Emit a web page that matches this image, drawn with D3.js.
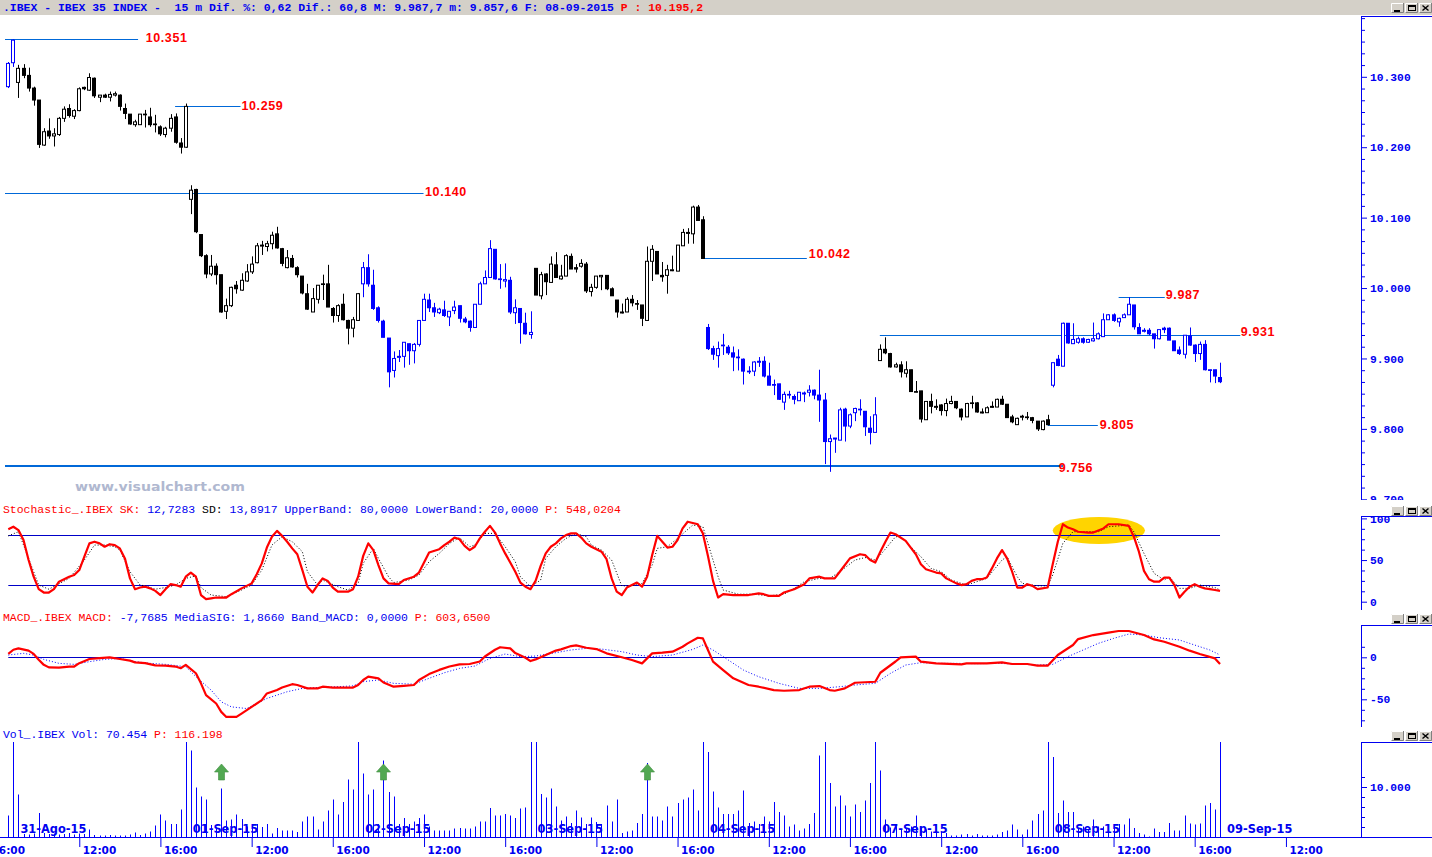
<!DOCTYPE html>
<html><head><meta charset="utf-8">
<script src="https://cdn.jsdelivr.net/npm/d3@7"></script>
<style>
html,body{margin:0;padding:0;background:#fff;overflow:hidden}
svg{display:block}
</style></head><body>
<svg id="chart" width="1432" height="857"></svg>
<script>
// ---------------- DATA ----------------
const openP = [10286,10320,10292,10312,10302,10284,10267,10203,10223,10216,
10218,10241,10255,10244,10252,10285,10281,10298,10271,10274,
10271,10274,10274,10255,10247,10232,10232,10247,10243,10233,
10229,10218,10227,10243,10206,10200,10126,10140,10076,10046,
10020,10031,10019,9967,9975,10004,9997,10010,10023,10036,
10060,10059,10063,10077,10056,10029,10042,10029,10017,9992,
9966,9984,10006,10006,9971,9961,9977,9954,9943,9954,
10006,10029,10004,9972,9953,9929,9883,9902,9903,9921,
9911,9920,9954,9983,9972,9965,9969,9959,9968,9975,
9956,9953,9944,9977,10006,10015,10055,10013,10010,10011,
9965,9971,9950,9934,10028,9989,10020,10008,10033,10013,
10017,10045,10029,10031,10034,9995,10001,10016,10018,9999,
9983,9965,9966,9984,9978,9976,9954,10038,10052,10018,
10018,10025,10024,10060,10078,10077,10115,10097,9944,9914,
9904,9919,9916,9908,9902,9899,9882,9882,9895,9896,
9875,9863,9864,9838,9849,9846,9840,9850,9852,9855,
9848,9841,9782,9786,9784,9828,9804,9823,9828,9825,
9801,9795,9897,9913,9907,9888,9891,9879,9884,9853,
9854,9813,9839,9831,9834,9826,9836,9839,9828,9817,
9837,9837,9823,9823,9831,9831,9842,9835,9817,9806,
9817,9817,9816,9811,9799,9813,9862,9899,9889,9950,
9921,9923,9928,9923,9925,9928,9931,9955,9962,9952,
9958,9962,9976,9944,9939,9940,9935,9928,9943,9943,
9925,9912,9906,9932,9919,9907,9920,9884,9884,9873];
const highP = [10321,10353,10317,10318,10313,10286,10267,10227,10241,10227,
10243,10258,10261,10254,10285,10286,10305,10299,10274,10276,
10279,10279,10275,10262,10247,10239,10247,10253,10256,10246,
10231,10229,10247,10248,10213,10262,10146,10141,10076,10048,
10047,10035,10019,9985,10002,10010,10021,10034,10045,10064,
10067,10067,10080,10087,10057,10054,10047,10031,10017,10006,
10000,10004,10019,10033,9973,9977,9992,9955,9959,9993,
10037,10048,10026,9974,9955,9929,9910,9912,9923,9921,
9922,9954,9992,9992,9979,9972,9982,9967,9982,9975,
9959,9954,9977,10009,10025,10068,10055,10034,10035,10016,
9984,9971,9965,9967,10028,10023,10021,10045,10051,10033,
10048,10049,10034,10041,10037,10006,10017,10018,10018,10001,
9983,9978,9987,9990,9983,9976,10059,10061,10052,10037,
10033,10046,10061,10084,10085,10117,10118,10102,9949,9918,
9924,9935,9919,9917,9913,9900,9889,9896,9902,9903,
9894,9870,9864,9853,9854,9849,9852,9853,9862,9856,
9884,9851,9792,9787,9830,9830,9822,9830,9842,9825,
9818,9845,9920,9930,9908,9894,9896,9896,9884,9868,
9854,9839,9850,9842,9835,9843,9847,9839,9829,9837,
9847,9838,9829,9832,9839,9843,9847,9835,9820,9816,
9820,9824,9817,9811,9812,9820,9894,9905,9951,9950,
9950,9931,9930,9928,9951,9937,9964,9963,9964,9958,
9964,9987,9976,9950,9943,9943,9935,9941,9945,9944,
9925,9917,9933,9944,9920,9924,9926,9884,9884,9894];
const lowP = [10284,10314,10270,10298,10279,10259,10199,10202,10212,10201,
10216,10236,10242,10240,10251,10281,10280,10270,10264,10270,
10265,10272,10252,10240,10232,10229,10232,10228,10229,10221,
10216,10214,10222,10205,10191,10199,10105,10078,10044,10014,
10017,10005,9965,9956,9973,9992,9996,10009,10020,10035,
10047,10052,10055,10056,10031,10028,10029,10015,9991,9969,
9966,9978,9983,9973,9951,9952,9954,9920,9930,9954,
9987,10002,9969,9951,9930,9859,9873,9895,9887,9891,
9893,9917,9954,9966,9959,9963,9959,9946,9963,9951,
9950,9938,9944,9977,10006,10015,10012,9999,10001,9963,
9949,9921,9934,9928,9990,9984,9990,10008,10015,10012,
10017,10027,10022,10029,9993,9988,9999,9997,9997,9989,
9958,9964,9966,9974,9969,9946,9954,10010,10020,10009,
9992,10024,10024,10060,10063,10063,10096,10042,9912,9898,
9887,9905,9905,9882,9883,9863,9878,9875,9888,9873,
9862,9848,9841,9827,9843,9835,9840,9838,9846,9842,
9810,9750,9739,9766,9784,9782,9801,9811,9819,9790,
9778,9795,9897,9906,9887,9887,9873,9873,9853,9852,
9809,9813,9822,9827,9819,9818,9835,9828,9812,9817,
9829,9823,9822,9823,9830,9831,9834,9816,9808,9806,
9812,9813,9808,9797,9798,9805,9859,9889,9889,9921,
9921,9921,9921,9922,9924,9927,9931,9955,9952,9945,
9958,9962,9941,9935,9937,9933,9914,9927,9936,9926,
9911,9905,9900,9918,9895,9898,9883,9866,9865,9865];
const closeP = [10319,10352,10312,10302,10284,10267,10204,10222,10216,10219,
10241,10254,10245,10252,10283,10283,10299,10273,10274,10271,
10275,10276,10258,10248,10233,10236,10247,10246,10232,10232,
10219,10227,10241,10207,10200,10258,10139,10080,10046,10020,
10031,10019,9966,9975,10001,9999,10011,10023,10034,10060,
10061,10063,10075,10057,10035,10043,10030,10019,9993,9970,
9985,10004,10005,9973,9961,9975,9955,9943,9955,9992,
10029,10006,9971,9954,9930,9881,9900,9903,9923,9911,
9920,9954,9984,9972,9966,9970,9961,9967,9973,9957,
9952,9944,9977,10006,10015,10056,10013,10012,10012,9966,
9972,9951,9935,9937,9990,10019,10009,10034,10015,10017,
10046,10027,10027,10035,9996,10001,10017,10018,9999,9989,
9966,9966,9984,9979,9977,9957,10038,10055,10020,10016,
10026,10026,10061,10079,10079,10115,10096,10042,9914,9906,
9914,9918,9908,9902,9901,9882,9881,9895,9896,9875,
9862,9862,9842,9849,9848,9842,9852,9851,9855,9848,
9841,9782,9786,9787,9827,9804,9820,9829,9827,9803,
9795,9820,9913,9908,9888,9891,9881,9884,9853,9852,
9814,9839,9832,9832,9826,9836,9839,9830,9817,9836,
9836,9824,9824,9830,9832,9842,9835,9816,9810,9815,
9818,9816,9812,9800,9811,9806,9894,9890,9950,9922,
9927,9928,9923,9927,9928,9935,9955,9962,9954,9957,
9962,9977,9945,9935,9940,9935,9928,9941,9941,9926,
9911,9907,9933,9919,9907,9920,9884,9883,9875,9867];
const volume = [4300,65000,8500,600,500,700,4800,800,600,700,
500,600,800,500,700,600,1500,400,300,300,
400,300,300,300,500,900,400,700,1100,2300,
4500,3300,2600,2600,5500,40000,17300,9900,8100,7500,
2400,2000,9700,3300,3500,4500,3600,2100,1800,2600,
2000,2600,700,1800,1300,1300,1300,1000,3100,4100,
4100,1500,3100,5300,7500,4500,7000,11500,9500,45000,
12700,8500,9500,2600,15300,9000,8100,2600,3800,2600,
3100,3800,4500,2100,1300,1300,1300,1300,1700,1800,
1700,1700,2100,3100,3100,5800,4300,4300,4600,4300,
3800,5700,5900,38000,25000,8600,7900,9700,6100,3300,
4100,2800,5300,3900,2600,3900,3000,2600,6300,3100,
7500,800,1100,1300,2800,4600,14800,4100,4100,3300,
6100,4100,6800,7500,7900,9500,5300,42000,17000,9100,
5900,4600,4600,4600,5300,9300,2800,3100,2600,4100,
3100,7000,5000,4300,2100,2500,1300,1700,2600,4800,
16300,23000,10800,6100,8300,6300,4100,6500,5000,7300,
10800,36000,13300,3500,1900,2100,1500,1800,2100,4300,
1800,1500,1100,800,1000,800,300,300,500,600,
300,600,300,300,300,500,1000,1300,2500,1500,
500,1500,3300,4600,5300,39000,16000,4800,7300,5000,
5000,1700,2100,1500,3500,2100,2100,1500,2100,2600,
2500,3700,1800,800,500,100,1700,1000,1000,2800,
1300,1300,4300,2700,2500,2700,6300,6800,5500,70454];
// [bar index, value]
const stochK = [[0,87],[1,90],[2,86],[3,74],[4,50],[5,30],[6,15],[7,11],[8,11],[9,15],[10,24],[12,30],[13,32],[14,38],[15,54],[16,70],[17,72],[18,70],[19,66],[20,69],[21,68],[22,64],[23,52],[24,28],[25,15],[26,17],[27,18],[28,16],[29,13],[30,8],[31,15],[32,21],[33,20],[34,18],[35,30],[36,35],[37,30],[38,8],[39,3],[40,4],[41,5],[43,5],[44,9],[46,16],[48,22],[49,33],[50,46],[51,65],[52,78],[53,85],[54,79],[55,72],[56,64],[57,57],[58,38],[59,18],[60,11],[61,20],[62,28],[63,25],[64,17],[65,12],[67,12],[68,15],[69,30],[70,55],[71,70],[72,62],[73,44],[74,28],[75,22],[77,21],[78,26],[80,30],[81,35],[82,47],[83,59],[85,63],[86,68],[87,72],[88,77],[89,75],[90,67],[91,62],[92,66],[93,76],[94,84],[95,91],[96,83],[97,70],[98,58],[99,47],[100,36],[101,23],[102,18],[103,15],[104,25],[105,43],[106,58],[107,66],[108,70],[109,76],[110,80],[111,82],[112,82],[113,77],[114,70],[115,66],[117,60],[118,51],[119,28],[120,12],[121,8],[122,17],[123,20],[124,23],[125,18],[126,30],[127,56],[128,79],[129,72],[130,65],[131,66],[132,74],[133,88],[134,96],[136,93],[137,82],[138,55],[139,25],[140,5],[141,9],[143,8],[146,8],[148,10],[149,9],[150,7],[152,7],[153,11],[155,15],[157,21],[158,28],[160,30],[161,28],[163,28],[164,36],[166,52],[168,57],[169,56],[170,50],[171,47],[172,60],[173,72],[174,83],[175,81],[177,73],[178,65],[179,57],[180,45],[181,39],[183,35],[184,34],[185,28],[186,25],[187,22],[188,20],[189,21],[190,25],[191,27],[192,27],[193,29],[194,40],[195,52],[196,62],[197,52],[198,36],[199,17],[200,17],[201,21],[202,19],[203,15],[205,17],[206,45],[207,72],[208,93],[209,89],[210,87],[211,84],[213,83],[214,83],[216,88],[217,93],[219,93],[221,91],[222,78],[223,60],[224,37],[225,27],[226,24],[227,24],[228,29],[229,29],[230,20],[231,5],[232,12],[233,18],[234,21],[235,18],[236,16],[237,15],[238,14],[239,13]];
const stochD = [[0,79],[2,84],[6,20],[8,15],[12,28],[15,50],[17,68],[19,68],[21,66],[22,62],[24,36],[26,20],[27,19],[29,15],[31,17],[33,20],[35,28],[37,31],[38,17],[40,8],[43,6],[46,14],[48,20],[50,38],[52,68],[54,78],[56,72],[58,60],[59,36],[61,20],[62,26],[65,18],[67,14],[69,22],[70,46],[72,64],[73,52],[75,30],[76,23],[79,26],[81,32],[83,48],[85,58],[87,70],[89,77],[91,66],[92,68],[94,82],[96,82],[98,66],[100,48],[101,30],[103,18],[105,26],[106,52],[108,66],[110,76],[112,82],[114,78],[115,68],[117,62],[119,50],[121,19],[123,19],[125,22],[127,44],[128,64],[130,66],[132,76],[135,92],[137,90],[138,70],[140,30],[141,14],[144,9],[147,9],[150,7],[153,9],[155,16],[157,24],[160,28],[162,28],[164,36],[167,50],[169,53],[171,50],[172,56],[175,78],[176,78],[178,66],[180,54],[182,40],[184,36],[186,26],[189,20],[191,24],[193,28],[196,50],[197,54],[199,30],[200,22],[203,19],[205,19],[206,32],[208,70],[210,84],[213,84],[215,84],[217,90],[221,92],[222,84],[224,58],[226,34],[228,26],[229,30],[231,16],[233,16],[235,20],[238,17],[239,14]];
const macdLine = [[0,4],[1,9],[2,10.6],[4,7.9],[5,4],[6,-3],[7,-9],[8,-12],[10,-12.4],[12,-11],[13,-11],[14,-7],[16,-2],[18,-1],[20,0],[22,-2],[24,-4],[25,-6],[27,-7],[29,-9.6],[31,-10],[33,-11],[34,-13],[35,-9],[37,-19],[38,-31],[39,-45],[41,-55],[42,-65],[43,-71],[45,-71],[46,-67],[48,-59],[50,-51],[51,-43],[53,-39],[54,-36],[56,-32],[57,-33],[59,-37],[61,-37],[62,-35],[64,-36],[65,-36],[68,-36],[69,-33],[70,-27],[71,-23],[73,-25],[74,-30],[76,-35],[78,-34],[80,-33],[81,-27],[83,-20],[85,-15],[87,-11],[89,-8.4],[91,-8],[93,-5],[94,1],[96,9],[97,12],[99,10.6],[100,5],[102,-0.5],[103,-4.5],[104,-2.5],[106,2.7],[108,8],[109,9.4],[111,13.4],[112,14.2],[114,11.4],[116,9.8],[118,4.7],[121,0],[123,-3.2],[125,-7.2],[127,4.7],[129,5.5],[131,6.7],[133,12.6],[134,16.6],[136,23.3],[137,22.5],[138,8.7],[139,-5.2],[141,-15.2],[143,-25],[146,-33],[148,-35],[151,-39],[153,-39.8],[156,-39],[158,-35],[160,-34.2],[162,-39],[163,-39.8],[165,-37],[167,-30.3],[171,-29.1],[172,-18.4],[175,-5],[176,0],[179,0.8],[180,-5.2],[183,-7.2],[188,-8.4],[189,-7.2],[193,-7.2],[196,-6],[198,-8],[201,-8],[203,-10],[205,-10],[207,2.7],[210,14.6],[211,21.7],[214,26.5],[217,29.3],[219,31.3],[221,31.3],[224,26.5],[226,21.3],[228,18.5],[231,12.6],[233,7.9],[235,3.9],[238,-1.3],[239,-8]];
const macdSignal = [[0,2.7],[3,4.7],[5,2.7],[7,-2.5],[10,-7.2],[13,-8.4],[16,-5.2],[19,-2.5],[22,-1.3],[25,-5.2],[28,-7.2],[31,-8.4],[35,-11.2],[37,-23],[40,-39],[42,-53],[44,-59],[47,-61],[49,-55],[51,-49],[55,-41],[58,-37],[61,-36],[65,-35],[68,-34],[70,-29],[73,-27],[76,-31],[80,-32],[83,-25],[86,-18.4],[89,-13.2],[92,-10.4],[95,-1.3],[98,3.9],[101,0.8],[104,1.5],[108,5.5],[111,8.7],[114,10.6],[117,9.8],[121,6.7],[124,2.7],[127,0.8],[131,2.7],[135,9.4],[137,14.6],[139,8.7],[142,-3.2],[145,-15.2],[148,-23.1],[152,-31],[156,-37],[160,-37],[164,-35],[167,-33],[171,-31],[174,-19.1],[177,-9.2],[180,-6.4],[183,-7.2],[187,-7.2],[191,-7.6],[195,-7.2],[199,-8],[203,-9.2],[206,-8.4],[209,0.8],[212,8.7],[215,16.6],[218,22.5],[221,27.7],[224,26.5],[227,23.3],[231,20.6],[234,14.6],[237,8.7],[239,2.7]];
const stochBands = [80, 20];
const macdBand = [0];
const dayStarts = [0,2,36,70,104,138,172,206];
const dayCandleColors = ["blue","black","black","blue","black","blue","black","blue"];
const dayLabelIdx = [2,36,70,104,138,172,206,240];
const dayLabels = ["31-Ago-15","01-Sep-15","02-Sep-15","03-Sep-15","04-Sep-15","07-Sep-15","08-Sep-15","09-Sep-15"];
const timeTickIdx = [-4,14,30,48,64,82,98,116,132,150,166,184,200,218,234,252];
const timeTickLabels = ["16:00","12:00","16:00","12:00","16:00","12:00","16:00","12:00","16:00","12:00","16:00","12:00","16:00","12:00","16:00","12:00"];
const priceTicks = [10300,10200,10100,10000,9900,9800,9700];
const stochTicks = [100,50,0];
const macdTicks = [0,-50];
const volTicks = [10000];
const levelValues = [10353,10259,10135,10042,9987,9934,9806,9748];
const levelLabels = ["10.351","10.259","10.140","10.042","9.987","9.931","9.805","9.756"];
const arrowIdx = [42,74,126];
const headerText = ".IBEX - IBEX 35 INDEX -  15 m Dif. %: 0,62 Dif.: 60,8 M: 9.987,7 m: 9.857,6 F: 08-09-2015 ";
const headerPrice = "P : 10.195,2";

// ---------------- LAYOUT (positions / styles) ----------------
// [from bar, to bar, label at bar, label dy px, stroke width]
const levelLayout = [[-0.65,25.6,27.1,-1,1],[32.9,45.8,46.0,0,1],[-0.65,81.9,82.2,-1,1],[137,157.5,157.9,-4,1],[219,228.1,228.3,-2,1],[171.9,243,243.1,-3,1],[205,214.9,215.3,0,1],[-0.65,208,207.2,2.5,2]];
const highlight = {i:215.1, v:85.4, ri:9.1, rv:16.2};
const AXIS_X = 1361;
const P = {price:[16,500], stoch:[516,610], macd:[625,727], vol:[742,837]};
const BLUE = "#0000f0", LVL = "#0068d8";

const svg = d3.select("#chart");
const xs = d3.scaleLinear().domain([0,239]).range([8.3, 8.3+5.07*239]);
const yP = d3.scaleLinear().domain([9700,10300]).range([499.3,76.8]);
const yS = d3.scaleLinear().domain([0,100]).range([601.7,518.4]);
const yM = d3.scaleLinear().domain([-50,0]).range([699.3,657.3]);
const yV = d3.scaleLinear().domain([0,10000]).range([837,787]);
const loc = d3.formatLocale({decimal:",",thousands:".",grouping:[3],currency:["",""]});
const fmt = loc.format(",.0f");

const defs = svg.append("defs");
Object.entries(P).forEach(([k,[t,b]])=>{
  defs.append("clipPath").attr("id","c_"+k).append("rect").attr("x",0).attr("y",t).attr("width",AXIS_X).attr("height",b-t);
  defs.append("clipPath").attr("id","a_"+k).append("rect").attr("x",AXIS_X).attr("y",t).attr("width",1432-AXIS_X).attr("height",b-t);
});

// title bar
svg.append("rect").attr("x",0).attr("y",0).attr("width",1432).attr("height",15).attr("fill","#d4d0c8");
const ht = svg.append("text").attr("x",3).attr("y",11).attr("font-family","Liberation Mono, monospace")
  .attr("font-size",11.45).attr("font-weight","bold").attr("xml:space","preserve");
ht.append("tspan").attr("fill",BLUE).text(headerText);
ht.append("tspan").attr("fill","#ff0000").text(headerPrice);

function buttons(y){
  for(let k=0;k<3;k++){
    const x=1391+k*14;
    const g=svg.append("g");
    g.append("rect").attr("x",x).attr("y",y).attr("width",13).attr("height",10).attr("fill","#d4d0c8");
    g.append("path").attr("d",`M${x+0.5},${y+10}V${y+0.5}H${x+13}`).attr("stroke","#fff").attr("fill","none");
    g.append("path").attr("d",`M${x+0.5},${y+9.5}H${x+12.5}V${y}`).attr("stroke","#808080").attr("fill","none");
    if(k===0) g.append("rect").attr("x",x+3).attr("y",y+7).attr("width",6).attr("height",2).attr("fill","#000");
    if(k===1){ g.append("rect").attr("x",x+3.5).attr("y",y+2.5).attr("width",7).attr("height",5).attr("fill","none").attr("stroke","#000");
      g.append("rect").attr("x",x+3).attr("y",y+2).attr("width",8).attr("height",2).attr("fill","#000"); }
    if(k===2) g.append("path").attr("d",`M${x+3.5},${y+2.5}L${x+9.5},${y+7.5}M${x+9.5},${y+2.5}L${x+3.5},${y+7.5}`).attr("stroke","#000").attr("stroke-width",1.4);
  }
}
buttons(3); buttons(506); buttons(614); buttons(731);

// frames on the right
[P.price,P.stoch,P.macd,P.vol].forEach(([t,b])=>{
  svg.append("line").attr("x1",AXIS_X+0.5).attr("x2",AXIS_X+0.5).attr("y1",t).attr("y2",b).attr("stroke",BLUE);
  svg.append("line").attr("x1",AXIS_X).attr("x2",1432).attr("y1",t+0.5).attr("y2",t+0.5).attr("stroke",BLUE);
});
svg.append("line").attr("x1",0).attr("x2",1432).attr("y1",837.5).attr("y2",837.5).attr("stroke",BLUE);

// watermark
svg.append("text").attr("x",75).attr("y",491).attr("font-family","DejaVu Sans, sans-serif").attr("font-weight","bold")
  .attr("font-size",13).attr("fill","#b0b8d0").attr("textLength",170).attr("lengthAdjust","spacingAndGlyphs").text("www.visualchart.com");

// ------------- price panel -------------
const gPrice = svg.append("g").attr("clip-path","url(#c_price)");
const bars = openP.map((o,i)=>{
  let k=0; dayStarts.forEach((s,j)=>{ if(i>=s) k=j; });
  return {i,o,h:highP[i],l:lowP[i],c:closeP[i],col: dayCandleColors[k]==="blue" ? "#0000ff" : "#000000"};
});
// level lines
levelValues.forEach((v,k)=>{
  const [f,t,la,dy,sw]=levelLayout[k];
  const yy = sw===2 ? Math.round(yP(v)) : Math.round(yP(v))+0.5;
  gPrice.append("line").attr("x1",xs(f)).attr("x2",xs(t)).attr("y1",yy).attr("y2",yy).attr("stroke",LVL).attr("stroke-width",sw);
  svg.append("text").attr("x",xs(la)).attr("y",yP(v)+dy).attr("dominant-baseline","central")
    .attr("font-family","Liberation Sans, Arial, sans-serif").attr("font-weight","bold").attr("font-size",12.5)
    .attr("letter-spacing",0.6).attr("fill","#ff0000").text(levelLabels[k]);
});
const cg = gPrice.selectAll("g.c").data(bars).join("g").attr("class","c");
cg.append("line").attr("x1",d=>Math.round(xs(d.i))+0.5).attr("x2",d=>Math.round(xs(d.i))+0.5)
  .attr("y1",d=>yP(d.h)).attr("y2",d=>yP(d.l)).attr("stroke",d=>d.col).attr("stroke-width",1);
cg.append("rect")
  .attr("x",d=> d.c>=d.o ? Math.round(xs(d.i))-1.5 : Math.round(xs(d.i))-2)
  .attr("y",d=> d.c>=d.o ? yP(Math.max(d.o,d.c)) : yP(Math.max(d.o,d.c))-0.5)
  .attr("width",d=> d.c>=d.o ? 3 : 4)
  .attr("height",d=> d.c>=d.o ? Math.max(yP(Math.min(d.o,d.c))-yP(Math.max(d.o,d.c)),1) : Math.max(yP(Math.min(d.o,d.c))-yP(Math.max(d.o,d.c))+1,1.5))
  .attr("fill",d=> d.c>=d.o ? "#ffffff" : d.col)
  .attr("stroke",d=> d.c>=d.o ? d.col : "none").attr("stroke-width",1);

// ------------- right axes -------------
function rightAxis(key, scale, major, minorStep, fmtFn){
  const outer = svg.append("g").attr("clip-path",`url(#a_${key})`);
  const dom = scale.domain();
  const lo=Math.min(...dom), hi=Math.max(...dom);
  const ext = (hi-lo)*0.3;
  const minor = d3.range(Math.floor((lo-ext)/minorStep)*minorStep, hi+ext, minorStep).filter(v=>!major.includes(Math.round(v*1000)/1000));
  const g1 = outer.append("g").attr("transform",`translate(${AXIS_X},0)`)
    .call(d3.axisRight(scale).tickValues(minor).tickSize(4).tickFormat(""));
  const g2 = outer.append("g").attr("transform",`translate(${AXIS_X},0)`)
    .call(d3.axisRight(scale).tickValues(major).tickSize(6).tickPadding(3).tickFormat(fmtFn));
  [g1,g2].forEach(g=>{ g.select(".domain").remove(); g.selectAll("line").attr("stroke",BLUE); });
  g2.attr("font-family","Liberation Mono, monospace").attr("font-size",11.3).attr("font-weight","bold");
  g2.selectAll("text").attr("fill",BLUE);
}
rightAxis("price", yP, priceTicks, 100/6, fmt);
rightAxis("stoch", yS, stochTicks, 12.5, d=>String(d));
rightAxis("macd", yM, macdTicks, 12.5, d=>String(d));
rightAxis("vol", yV, volTicks, 2000, fmt);

// ------------- panel labels -------------
const lab = (y, parts)=>{
  const t = svg.append("text").attr("x",3).attr("y",y).attr("font-family","Liberation Mono, monospace")
    .attr("font-size",11.45).attr("xml:space","preserve");
  parts.forEach(([s,c])=>t.append("tspan").attr("fill",c).text(s));
};
lab(513, [["Stochastic_.IBEX SK: ","#ff0000"],["12,7283 ",BLUE],["SD: ","#000"],["13,8917 ",BLUE],["UpperBand: ",BLUE],["80,0000 ",BLUE],["LowerBand: ",BLUE],["20,0000 ",BLUE],["P: ","#ff0000"],["548,0204","#ff0000"]]);
lab(621, [["MACD_.IBEX MACD: ","#ff0000"],["-7,7685 ",BLUE],["MediaSIG: ",BLUE],["1,8660 ",BLUE],["Band_MACD: ",BLUE],["0,0000 ",BLUE],["P: ","#ff0000"],["603,6500","#ff0000"]]);
lab(738, [["Vol_.IBEX Vol: ",BLUE],["70.454 ",BLUE],["P: ","#ff0000"],["116.198","#ff0000"]]);

// ------------- stochastic -------------
const gS = svg.append("g").attr("clip-path","url(#c_stoch)");
gS.append("ellipse").attr("cx",xs(highlight.i)).attr("cy",yS(highlight.v))
  .attr("rx",xs(highlight.i+highlight.ri)-xs(highlight.i)).attr("ry",yS(highlight.v-highlight.rv)-yS(highlight.v)).attr("fill","#ffd400");
stochBands.forEach(b=>gS.append("line").attr("x1",xs(0)).attr("x2",xs(239)).attr("y1",Math.round(yS(b))+0.5).attr("y2",Math.round(yS(b))+0.5).attr("stroke","#0000c8"));
const lineS = d3.line().x(d=>xs(d[0])).y(d=>yS(d[1]));
gS.append("path").attr("d",lineS(stochD)).attr("fill","none").attr("stroke","#000").attr("stroke-width",1).attr("stroke-dasharray","1,2");
gS.append("path").attr("d",lineS(stochK)).attr("fill","none").attr("stroke","#ff0000").attr("stroke-width",2.2).attr("stroke-linejoin","round");

// ------------- MACD -------------
const gM = svg.append("g").attr("clip-path","url(#c_macd)");
macdBand.forEach(b=>gM.append("line").attr("x1",xs(0)).attr("x2",xs(239)).attr("y1",Math.round(yM(b))+0.5).attr("y2",Math.round(yM(b))+0.5).attr("stroke","#0000c8"));
const lineM = d3.line().x(d=>xs(d[0])).y(d=>yM(d[1]));
gM.append("path").attr("d",lineM(macdSignal)).attr("fill","none").attr("stroke","#0000ff").attr("stroke-width",1).attr("stroke-dasharray","1,2");
gM.append("path").attr("d",lineM(macdLine)).attr("fill","none").attr("stroke","#ff0000").attr("stroke-width",2.2).attr("stroke-linejoin","round");

// ------------- Volume -------------
const gV = svg.append("g").attr("clip-path","url(#c_vol)");
dayLabels.forEach((s,k)=>{
  gV.append("text").attr("x",xs(dayLabelIdx[k])+2).attr("y",832.5).attr("font-family","DejaVu Sans, sans-serif")
    .attr("font-weight","bold").attr("font-size",11.4).attr("fill",BLUE).text(s);
});
gV.selectAll("line.v").data(volume).join("line").attr("class","v")
  .attr("x1",(d,i)=>Math.round(xs(i))+0.5).attr("x2",(d,i)=>Math.round(xs(i))+0.5)
  .attr("y1",yV(0)).attr("y2",d=>yV(d)).attr("stroke","#0000ff").attr("stroke-width",1);
arrowIdx.forEach(i=>{
  const cx = Math.round(xs(i))+0.5, top=764;
  svg.append("path").attr("d",`M${cx},${top} L${cx+7},${top+8} L${cx+3},${top+8} L${cx+3},${top+16} L${cx-3},${top+16} L${cx-3},${top+8} L${cx-7},${top+8} Z`)
    .attr("fill","#52a852").attr("stroke","#3f8f3f").attr("stroke-width",0.6);
});

// ------------- time axis -------------
const gx = svg.append("g").attr("transform","translate(0,837)")
  .call(d3.axisBottom(xs).tickValues(timeTickIdx).tickFormat((d,k)=>timeTickLabels[k]).tickSize(10).tickSizeOuter(0));
gx.select(".domain").remove();
gx.selectAll("line").attr("stroke",BLUE);
gx.attr("font-family","DejaVu Sans, sans-serif").attr("font-size",10.5).attr("font-weight","bold");
gx.selectAll("text").attr("fill",BLUE).attr("text-anchor","start").attr("x",3).attr("y",10).attr("dy","0.71em");
</script>
</body></html>
